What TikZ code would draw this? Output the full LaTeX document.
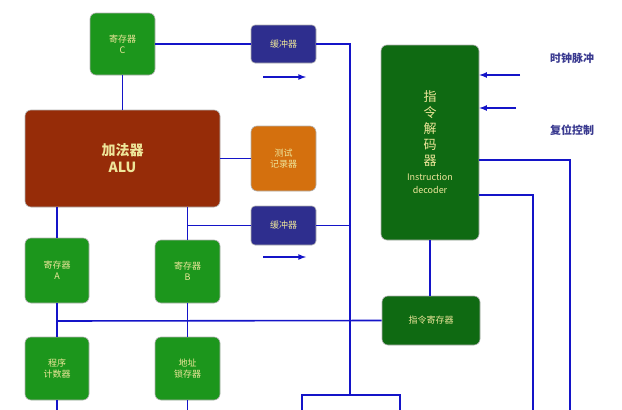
\documentclass[tikz,border=0pt]{standalone}
\usepackage{fontspec}
\setmainfont{Noto Sans CJK SC}
\begin{document}
\begin{tikzpicture}[x=1pt,y=-1pt,
 line/.style={draw=wire,line width=1.6pt},
 bx/.style={rounded corners=6pt,draw=white!70!black,line width=0.6pt,text=txt,align=center,font=\fontsize{9}{11}\selectfont,inner sep=0pt},
 grn/.style={bx,fill=gbox},
 dgr/.style={bx,fill=dbox},
 nav/.style={bx,fill=nbox,rounded corners=4pt},
 arr/.style={line,-latex}]
\definecolor{wire}{HTML}{1414C8}
\definecolor{gbox}{HTML}{1C961C}
\definecolor{dbox}{HTML}{0F6A12}
\definecolor{nbox}{HTML}{2E2E8E}
\definecolor{abox}{HTML}{962C08}
\definecolor{obox}{HTML}{D4700E}
\definecolor{txt}{HTML}{EEE69A}
\definecolor{lbl}{HTML}{3A3A90}
\useasboundingbox (0,0) rectangle (622,410);
\node[grn,minimum width=65,minimum height=62] (C) at (122.5,44) {寄存器\\C};
\node[bx,fill=abox,minimum width=195,minimum height=97,font=\fontsize{14}{17}\selectfont\bfseries] (alu) at (122.5,158.5) {加法器\\ALU};
\node[bx,fill=obox,minimum width=65,minimum height=65] (test) at (283.5,158.5) {测试\\记录器};
\node[nav,minimum width=65,minimum height=38] (b1) at (283.5,44) {缓冲器};
\node[nav,minimum width=65,minimum height=39] (b2) at (283.5,225.5) {缓冲器};
\node[grn,minimum width=64,minimum height=65] (A) at (57,270.5) {寄存器\\A};
\node[grn,minimum width=65,minimum height=63] (B) at (187.5,271.5) {寄存器\\B};
\node[grn,minimum width=64,minimum height=63] (pc) at (57,368.5) {程序\\计数器};
\node[grn,minimum width=65,minimum height=63] (al) at (187.5,368.5) {地址\\锁存器};
\node[dgr,minimum width=98,minimum height=195,font=\fontsize{13}{16}\selectfont] (dec) at (430,142.5) {指\\令\\解\\码\\器\\[-1pt]{\fontsize{9}{11}\selectfont Instruction}\\[-3pt]{\fontsize{9}{11}\selectfont decoder}};
\node[dgr,minimum width=98,minimum height=49] (ir) at (431,320.5) {指令寄存器};
\node[text=lbl,font=\fontsize{11}{13}\selectfont\bfseries] (clk) at (572,58) {时钟脉冲};
\node[text=lbl,font=\fontsize{11}{13}\selectfont\bfseries] (rst) at (572,130) {复位控制};
\coordinate (bus1) at (350,395);
\coordinate (bl) at (302,395);
\coordinate (br) at (400,395);
\draw[line] (C.east) -- (b1.west);
\draw[line] (b1.east) -- (350,44) -- (bus1);
\draw[line] (b2.east) -- (350,225.5);
\draw[line] (bl|-0,410) -- (bl) -- (br) -- (br|-0,410);
\draw[line] (C.south) -- (alu.north-|C.south);
\draw[line] (alu.east) -- (test.west);
\draw[line] (A.north-|57,0) -- (57,207);
\draw[line] (B.north) -- (187.5,207);
\draw[line] (187.5,225.5) -- (b2.west);
\draw[line] (A.south) -- (pc.north);
\draw[line] (B.south) -- (al.north);
\draw[line] (57,321) -- (ir.west);
\draw[line] (pc.south) -- (57,410);
\draw[line] (al.south) -- (187.5,410);
\draw[line] (dec.south-|430,0) -- (ir.north-|430,0);
\draw[arr] (520,75) -- (dec.east|-0,75);
\draw[arr] (516,108) -- (dec.east|-0,108);
\draw[line] (dec.east|-0,160) -- (570,160) -- (570,410);
\draw[line] (dec.east|-0,195) -- (533,195) -- (533,410);
\draw[arr] (263,77) -- (306,77);
\draw[arr] (263,257) -- (306,257);
\end{tikzpicture}
\end{document}
